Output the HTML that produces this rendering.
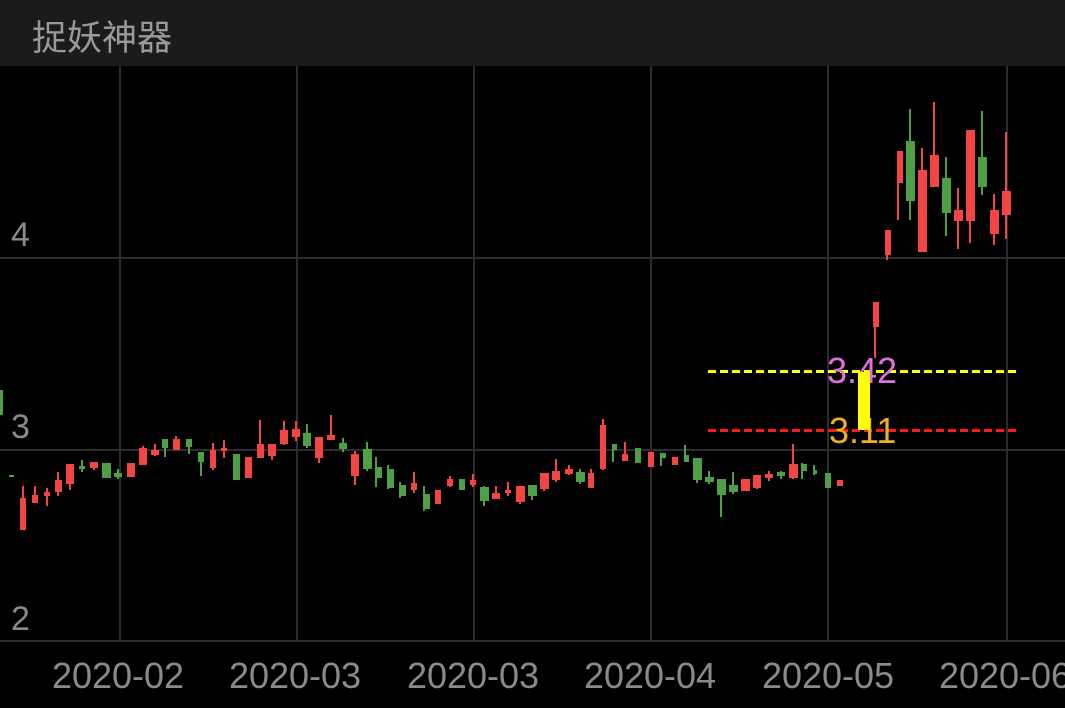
<!DOCTYPE html>
<html><head><meta charset="utf-8"><style>
html,body{margin:0;padding:0;background:#000;width:1065px;height:708px;overflow:hidden}
#hd{position:absolute;left:0;top:0;width:1065px;height:66px;background:#1b1b1b}
#hd span{position:absolute;left:32px;top:10px;font:35px "Liberation Sans","Noto Sans CJK SC",sans-serif;color:#9a9a9a}
svg{position:absolute;left:0;top:0}
text{font-family:"Liberation Sans",sans-serif}
</style></head><body>
<div id="hd"><span>捉妖神器</span></div>
<svg width="1065" height="708" viewBox="0 0 1065 708">
<g stroke="#2c2c30" stroke-width="2">
<line x1="0" y1="258" x2="1065" y2="258"/><line x1="0" y1="450" x2="1065" y2="450"/><line x1="0" y1="641" x2="1065" y2="641"/>
<line x1="120" y1="66" x2="120" y2="641"/><line x1="297" y1="66" x2="297" y2="641"/><line x1="474" y1="66" x2="474" y2="641"/>
<line x1="651" y1="66" x2="651" y2="641"/><line x1="828" y1="66" x2="828" y2="641"/><line x1="1007" y1="66" x2="1007" y2="641"/>
</g>
<g fill="#8a8a8a" font-size="34">
<text x="11" y="246">4</text><text x="11" y="438">3</text><text x="11" y="630">2</text>
</g>
<g fill="#8a8a8a" font-size="36" text-anchor="middle">
<text x="118" y="688">2020-02</text><text x="295" y="688">2020-03</text><text x="473" y="688">2020-03</text>
<text x="650" y="688">2020-04</text><text x="828" y="688">2020-05</text><text x="1005" y="688">2020-06</text>
</g>
<g id="red" fill="#f44545" stroke="#f44545" stroke-width="2">
<line x1="23" y1="486" x2="23" y2="530"/><rect x="20" y="498" width="6" height="32" stroke="none"/>
<line x1="35" y1="486" x2="35" y2="503"/><rect x="32" y="495" width="6" height="8" stroke="none"/>
<line x1="47" y1="488" x2="47" y2="506"/><rect x="44" y="492" width="6" height="4" stroke="none"/>
<line x1="58" y1="472" x2="58" y2="496"/><rect x="55" y="480" width="7" height="12" stroke="none"/>
<line x1="70" y1="464" x2="70" y2="490"/><rect x="66" y="464" width="8" height="20" stroke="none"/>
<line x1="94" y1="462" x2="94" y2="470"/><rect x="90" y="462" width="8" height="6" stroke="none"/>
<rect x="127" y="463" width="8" height="14" stroke="none"/>
<line x1="143" y1="446" x2="143" y2="465"/><rect x="139" y="448" width="8" height="17" stroke="none"/>
<line x1="155" y1="444" x2="155" y2="456"/><rect x="151" y="450" width="8" height="5" stroke="none"/>
<line x1="176" y1="436" x2="176" y2="450"/><rect x="173" y="439" width="7" height="11" stroke="none"/>
<line x1="213" y1="443" x2="213" y2="470"/><rect x="210" y="450" width="6" height="18" stroke="none"/>
<line x1="224" y1="440" x2="224" y2="458"/><rect x="221" y="448" width="6" height="3" stroke="none"/>
<rect x="245" y="457" width="7" height="21" stroke="none"/>
<line x1="260" y1="420" x2="260" y2="458"/><rect x="257" y="444" width="7" height="14" stroke="none"/>
<line x1="272" y1="444" x2="272" y2="460"/><rect x="268" y="444" width="8" height="12" stroke="none"/>
<line x1="284" y1="421" x2="284" y2="445"/><rect x="280" y="430" width="8" height="14" stroke="none"/>
<line x1="296" y1="421" x2="296" y2="441"/><rect x="292" y="429" width="8" height="8" stroke="none"/>
<line x1="319" y1="437" x2="319" y2="463"/><rect x="315" y="437" width="8" height="21" stroke="none"/>
<line x1="331" y1="415" x2="331" y2="440"/><rect x="327" y="435" width="8" height="5" stroke="none"/>
<line x1="355" y1="451" x2="355" y2="485"/><rect x="351" y="454" width="8" height="22" stroke="none"/>
<line x1="414" y1="472" x2="414" y2="493"/><rect x="411" y="483" width="6" height="7" stroke="none"/>
<line x1="438" y1="490" x2="438" y2="504"/><rect x="435" y="490" width="6" height="14" stroke="none"/>
<line x1="450" y1="476" x2="450" y2="487"/><rect x="447" y="479" width="6" height="7" stroke="none"/>
<line x1="473" y1="474" x2="473" y2="487"/><rect x="470" y="480" width="6" height="5" stroke="none"/>
<line x1="496" y1="486" x2="496" y2="499"/><rect x="492" y="493" width="8" height="6" stroke="none"/>
<line x1="508" y1="482" x2="508" y2="496"/><rect x="505" y="490" width="6" height="3" stroke="none"/>
<line x1="520" y1="486" x2="520" y2="504"/><rect x="516" y="486" width="9" height="16" stroke="none"/>
<line x1="544" y1="473" x2="544" y2="491"/><rect x="540" y="473" width="9" height="16" stroke="none"/>
<line x1="556" y1="459" x2="556" y2="482"/><rect x="552" y="471" width="8" height="9" stroke="none"/>
<line x1="569" y1="465" x2="569" y2="475"/><rect x="565" y="469" width="8" height="5" stroke="none"/>
<line x1="591" y1="469" x2="591" y2="488"/><rect x="588" y="473" width="6" height="15" stroke="none"/>
<line x1="603" y1="419" x2="603" y2="470"/><rect x="600" y="425" width="6" height="44" stroke="none"/>
<line x1="625" y1="442" x2="625" y2="461"/><rect x="622" y="454" width="6" height="7" stroke="none"/>
<rect x="648" y="452" width="6" height="15" stroke="none"/>
<rect x="672" y="457" width="6" height="8" stroke="none"/>
<rect x="741" y="479" width="9" height="12" stroke="none"/>
<line x1="757" y1="475" x2="757" y2="489"/><rect x="753" y="475" width="8" height="13" stroke="none"/>
<line x1="769" y1="471" x2="769" y2="481"/><rect x="765" y="474" width="8" height="4" stroke="none"/>
<line x1="793" y1="444" x2="793" y2="479"/><rect x="789" y="464" width="9" height="14" stroke="none"/>
<rect x="837" y="480" width="6" height="6" stroke="none"/>
<line x1="875" y1="302" x2="875" y2="358"/><rect x="873" y="302" width="6" height="25" stroke="none"/>
<line x1="887" y1="230" x2="887" y2="260"/><rect x="885" y="230" width="6" height="25" stroke="none"/>
<line x1="898" y1="151" x2="898" y2="220"/><rect x="897" y="151" width="6" height="32" stroke="none"/>
<line x1="922" y1="148" x2="922" y2="252"/><rect x="918" y="170" width="9" height="82" stroke="none"/>
<line x1="934" y1="102" x2="934" y2="187"/><rect x="930" y="155" width="9" height="32" stroke="none"/>
<line x1="958" y1="188" x2="958" y2="249"/><rect x="954" y="210" width="9" height="11" stroke="none"/>
<line x1="970" y1="130" x2="970" y2="243"/><rect x="966" y="130" width="9" height="91" stroke="none"/>
<line x1="994" y1="194" x2="994" y2="245"/><rect x="990" y="210" width="9" height="24" stroke="none"/>
<line x1="1006" y1="132" x2="1006" y2="239"/><rect x="1002" y="191" width="9" height="24" stroke="none"/>
</g>
<g fill="#4e9f46" stroke="#4e9f46" stroke-width="2">
<rect x="0" y="390" width="3" height="25" stroke="none"/>
<rect x="9" y="475" width="5" height="2" stroke="none"/>
<line x1="82" y1="460" x2="82" y2="472"/><rect x="79" y="466" width="6" height="3" stroke="none"/>
<rect x="102" y="463" width="9" height="15" stroke="none"/>
<line x1="118" y1="469" x2="118" y2="479"/><rect x="114" y="473" width="8" height="4" stroke="none"/>
<line x1="165" y1="439" x2="165" y2="457"/><rect x="162" y="439" width="6" height="9" stroke="none"/>
<line x1="189" y1="439" x2="189" y2="454"/><rect x="186" y="439" width="6" height="8" stroke="none"/>
<line x1="201" y1="452" x2="201" y2="476"/><rect x="198" y="452" width="6" height="10" stroke="none"/>
<rect x="233" y="454" width="7" height="26" stroke="none"/>
<line x1="307" y1="424" x2="307" y2="448"/><rect x="303" y="433" width="8" height="13" stroke="none"/>
<line x1="343" y1="438" x2="343" y2="452"/><rect x="339" y="443" width="8" height="6" stroke="none"/>
<line x1="367" y1="442" x2="367" y2="471"/><rect x="363" y="449" width="9" height="20" stroke="none"/>
<line x1="376" y1="457" x2="376" y2="487"/><rect x="376" y="467" width="6" height="11" stroke="none"/>
<line x1="388" y1="465" x2="388" y2="489"/><rect x="388" y="469" width="6" height="19" stroke="none"/>
<line x1="400" y1="482" x2="400" y2="498"/><rect x="400" y="485" width="6" height="11" stroke="none"/>
<line x1="424" y1="486" x2="424" y2="511"/><rect x="424" y="494" width="6" height="15" stroke="none"/>
<rect x="459" y="479" width="6" height="11" stroke="none"/>
<line x1="484" y1="486" x2="484" y2="506"/><rect x="480" y="487" width="9" height="14" stroke="none"/>
<line x1="532" y1="485" x2="532" y2="500"/><rect x="528" y="485" width="9" height="11" stroke="none"/>
<line x1="580" y1="469" x2="580" y2="484"/><rect x="576" y="472" width="9" height="10" stroke="none"/>
<line x1="613" y1="444" x2="613" y2="462"/><rect x="612" y="444" width="5" height="6" stroke="none"/>
<rect x="635" y="448" width="6" height="15" stroke="none"/>
<line x1="661" y1="453" x2="661" y2="466"/><rect x="660" y="453" width="6" height="5" stroke="none"/>
<line x1="685" y1="445" x2="685" y2="462"/><rect x="685" y="455" width="4" height="7" stroke="none"/>
<line x1="697" y1="458" x2="697" y2="483"/><rect x="693" y="458" width="9" height="22" stroke="none"/>
<line x1="709" y1="471" x2="709" y2="484"/><rect x="705" y="477" width="9" height="5" stroke="none"/>
<line x1="721" y1="479" x2="721" y2="517"/><rect x="717" y="479" width="9" height="16" stroke="none"/>
<line x1="733" y1="472" x2="733" y2="494"/><rect x="729" y="485" width="9" height="7" stroke="none"/>
<line x1="781" y1="471" x2="781" y2="479"/><rect x="777" y="472" width="8" height="4" stroke="none"/>
<line x1="802" y1="463" x2="802" y2="479"/><rect x="802" y="464" width="5" height="7" stroke="none"/>
<line x1="814" y1="465" x2="814" y2="475"/><rect x="814" y="470" width="3" height="4" stroke="none"/>
<rect x="825" y="473" width="6" height="15" stroke="none"/>
<line x1="910" y1="109" x2="910" y2="220"/><rect x="906" y="141" width="9" height="60" stroke="none"/>
<line x1="946" y1="157" x2="946" y2="236"/><rect x="942" y="178" width="9" height="35" stroke="none"/>
<line x1="982" y1="111" x2="982" y2="195"/><rect x="978" y="157" width="9" height="30" stroke="none"/>
</g>
<line x1="708" y1="371.5" x2="1017" y2="371.5" stroke="#ffff00" stroke-width="3" stroke-dasharray="8,4"/>
<line x1="708" y1="430.5" x2="1017" y2="430.5" stroke="#ff1a1a" stroke-width="3" stroke-dasharray="8,4"/>
<text x="827" y="383" font-size="36" fill="#e070e0">3.42</text>
<text x="829" y="443" font-size="36" fill="#f0b020">3.11</text>
<rect x="858" y="372" width="12" height="58" fill="#ffff00"/>
</svg>
</body></html>
